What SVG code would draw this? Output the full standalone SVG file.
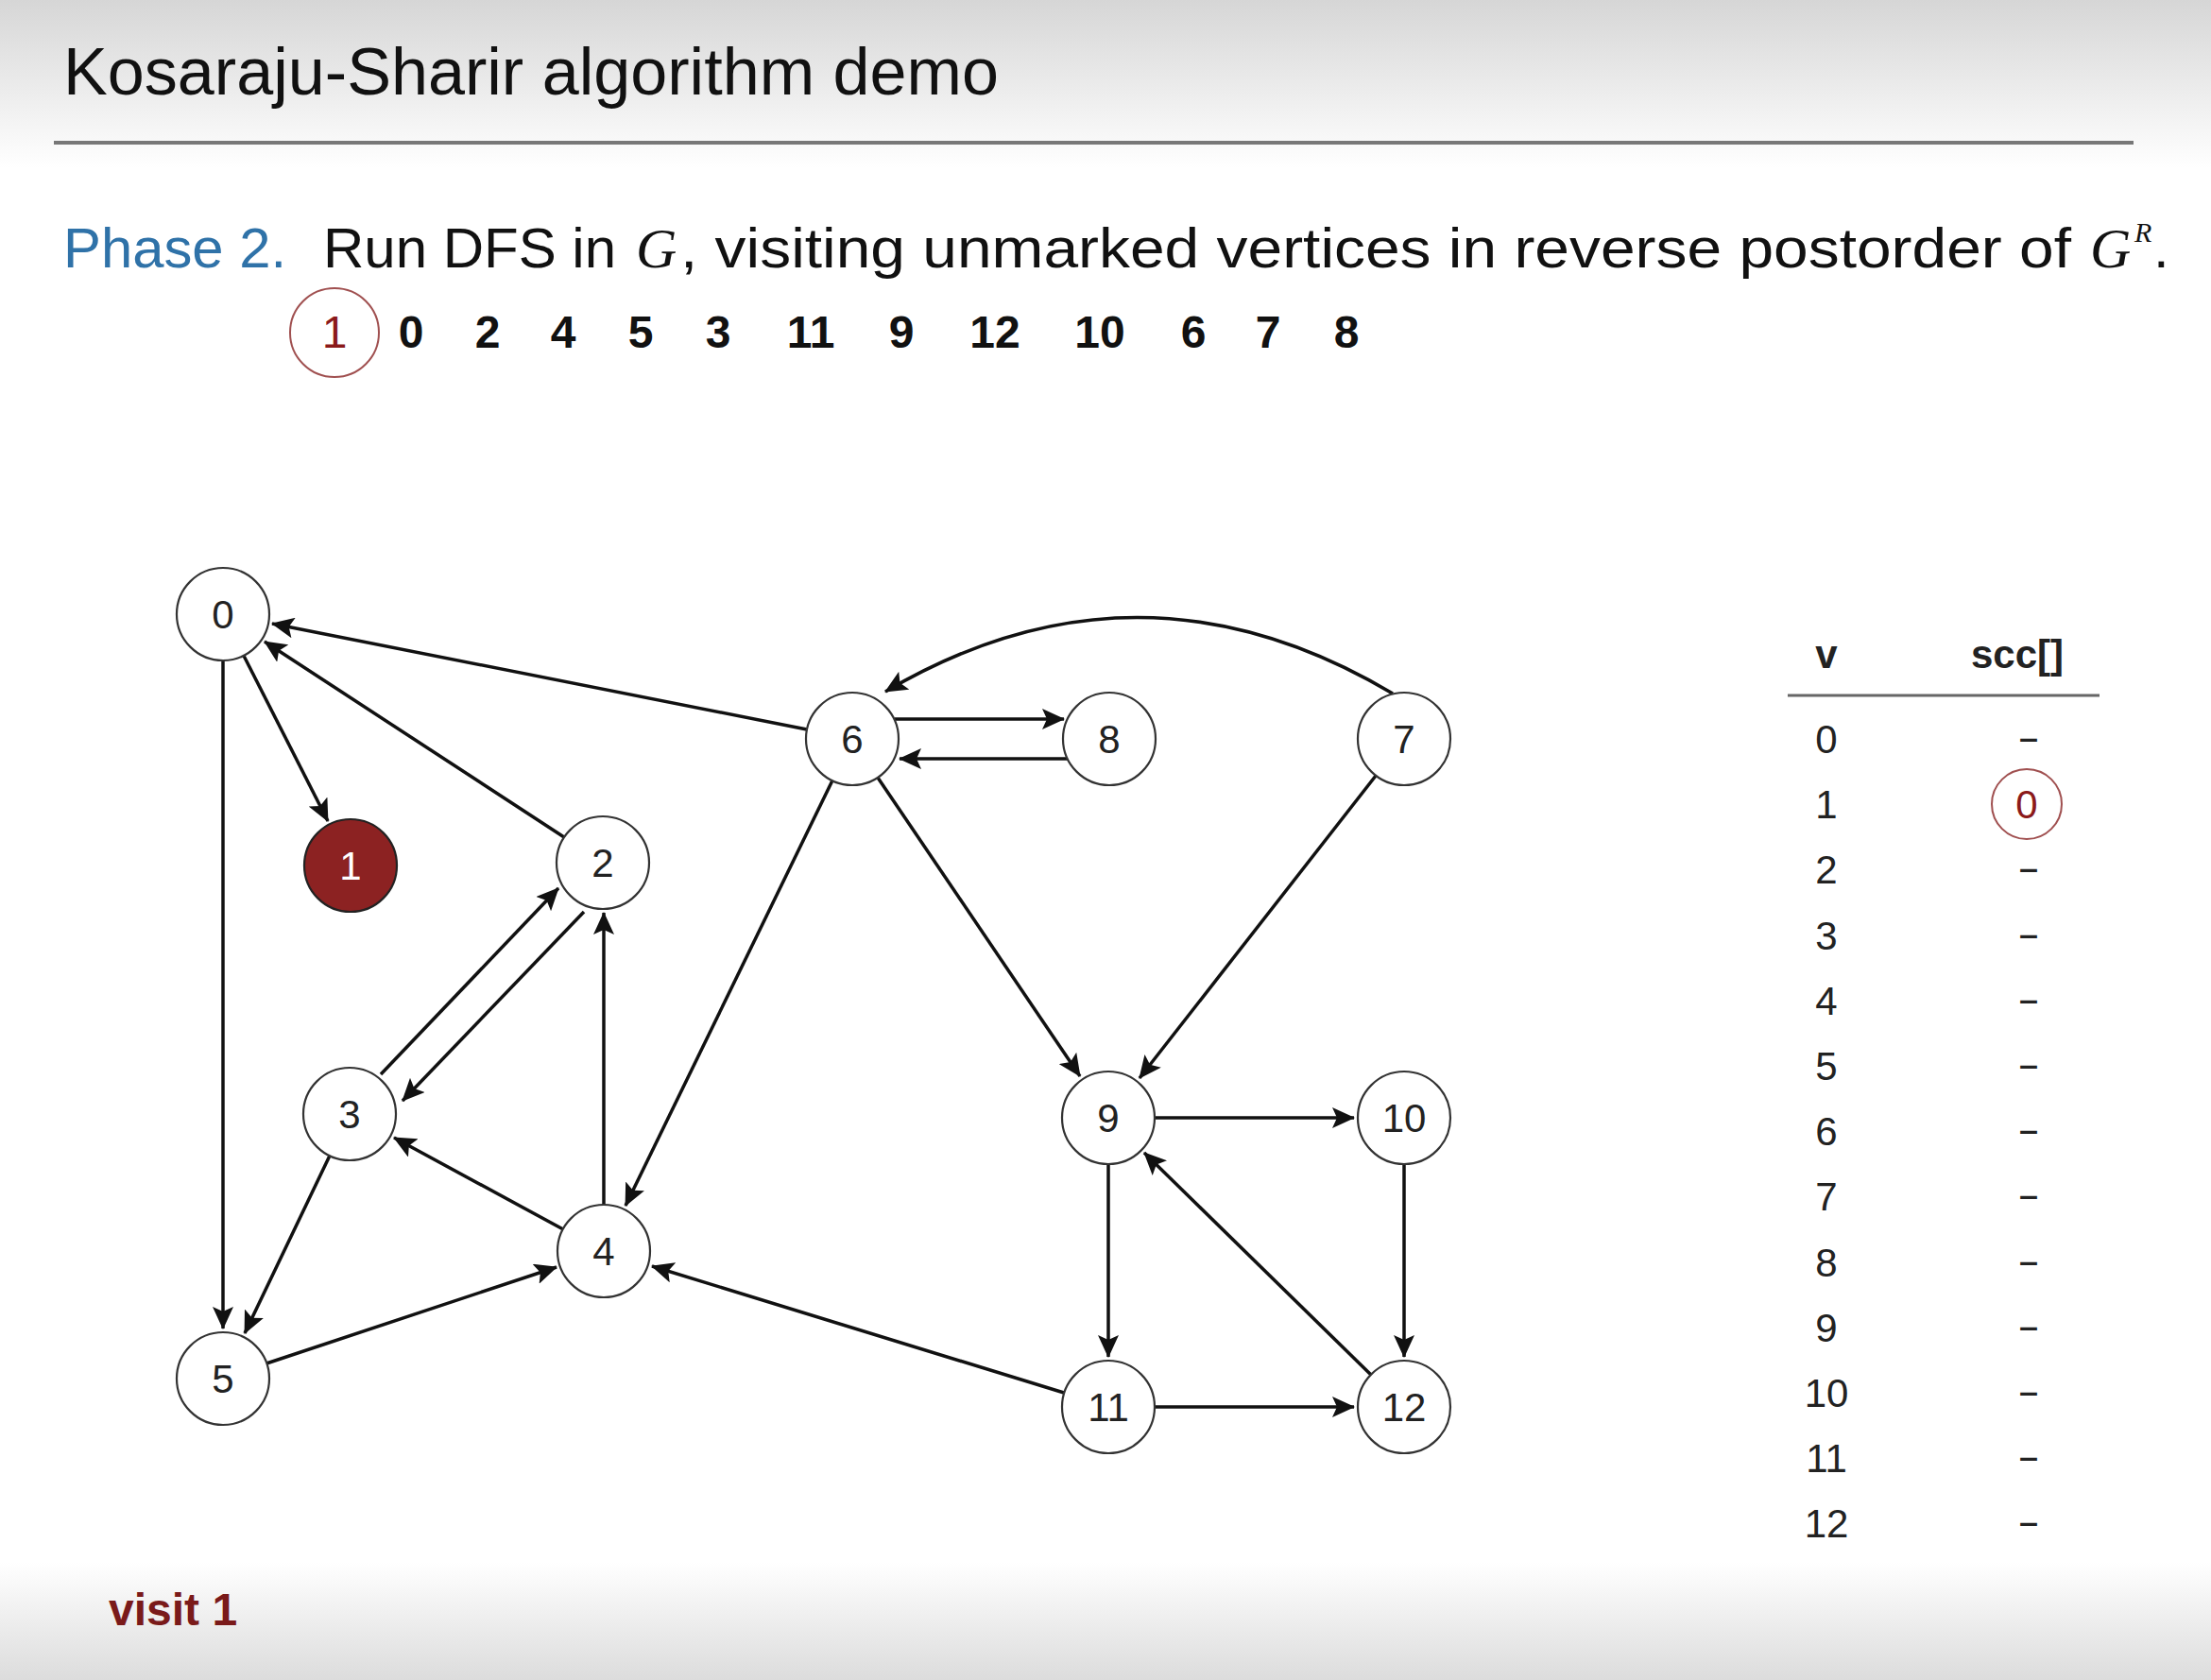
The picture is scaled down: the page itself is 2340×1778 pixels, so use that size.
<svg xmlns="http://www.w3.org/2000/svg" width="2340" height="1778" viewBox="0 0 2340 1778">
<defs>
<linearGradient id="bg" x1="0" y1="0" x2="0" y2="1">
<stop offset="0" stop-color="#d6d6d6"/>
<stop offset="0.1" stop-color="#ffffff"/>
<stop offset="0.93" stop-color="#ffffff"/>
<stop offset="1" stop-color="#dcdcdc"/>
</linearGradient>
<marker id="arr" markerUnits="userSpaceOnUse" viewBox="0 -11 24 22" markerWidth="24" markerHeight="22" refX="23" refY="0" orient="auto">
<path d="M0,-11 L24,0 L0,11 L5,0 Z" fill="#111"/>
</marker>
<style>
.edge{stroke:#111;stroke-width:3.5;fill:none;marker-end:url(#arr)}
.node circle{fill:#fff;stroke:#333;stroke-width:2.2}
.node text{font-family:"Liberation Sans",Arial,sans-serif;font-size:42px;fill:#222;text-anchor:middle}
.seq{font-family:"Liberation Sans",Arial,sans-serif;font-size:48px;font-weight:bold;fill:#111;text-anchor:middle}
.tbl{font-family:"Liberation Sans",Arial,sans-serif;font-size:42px;fill:#222;text-anchor:middle}
.dash{font-family:"DejaVu Sans",sans-serif;font-size:44px;fill:#222;text-anchor:middle}
.hdr{font-family:"Liberation Sans",Arial,sans-serif;font-size:42px;font-weight:bold;fill:#222;text-anchor:middle}
.ph{font-family:"Liberation Sans",Arial,sans-serif;font-size:60px;fill:#111}
.it{font-family:"Liberation Serif","Times New Roman",serif;font-style:italic;font-size:60px;fill:#111}
</style>
</defs>
<rect x="0" y="0" width="2340" height="1778" fill="url(#bg)"/>

<text x="67" y="100" font-family="Liberation Sans, Arial, sans-serif" font-size="70" fill="#111" textLength="990" lengthAdjust="spacingAndGlyphs">Kosaraju-Sharir algorithm demo</text>
<line x1="57" y1="151" x2="2258" y2="151" stroke="#777" stroke-width="4"/>

<text class="ph" x="67" y="283" style="fill:#2f72a8" textLength="236" lengthAdjust="spacingAndGlyphs">Phase 2.</text>
<text class="ph" x="342" y="283" textLength="310" lengthAdjust="spacingAndGlyphs">Run DFS in</text>
<text class="it" x="673" y="283">G</text>
<text class="ph" x="720" y="283" textLength="1472" lengthAdjust="spacingAndGlyphs">, visiting unmarked vertices in reverse postorder of</text>
<text class="it" x="2212" y="283">G</text>
<text class="it" x="2259" y="256" style="font-size:30px">R</text>
<text class="ph" x="2279" y="283">.</text>

<g id="sequence">
<ellipse cx="354" cy="352" rx="47" ry="47" fill="none" stroke="#a05050" stroke-width="2"/>
<text class="seq" x="354" y="368" style="fill:#8b1a1a;font-weight:normal">1</text>
<text class="seq" x="435" y="368">0</text>
<text class="seq" x="516" y="368">2</text>
<text class="seq" x="596" y="368">4</text>
<text class="seq" x="678" y="368">5</text>
<text class="seq" x="760" y="368">3</text>
<text class="seq" x="858" y="368">11</text>
<text class="seq" x="954" y="368">9</text>
<text class="seq" x="1053" y="368">12</text>
<text class="seq" x="1164" y="368">10</text>
<text class="seq" x="1263" y="368">6</text>
<text class="seq" x="1342" y="368">7</text>
<text class="seq" x="1425" y="368">8</text>
</g>

<g id="edges">
<line class="edge" x1="258" y1="694" x2="347" y2="869"/>
<line class="edge" x1="236" y1="699" x2="236" y2="1406"/>
<line class="edge" x1="597" y1="886" x2="280" y2="679"/>
<line class="edge" x1="854" y1="772" x2="288" y2="660"/>
<line class="edge" x1="403" y1="1137" x2="591" y2="940"/>
<line class="edge" x1="618" y1="965" x2="426" y2="1165"/>
<line class="edge" x1="639" y1="1275" x2="639" y2="966"/>
<line class="edge" x1="881" y1="826" x2="662" y2="1276"/>
<line class="edge" x1="596" y1="1301" x2="417" y2="1204"/>
<line class="edge" x1="349" y1="1223" x2="259" y2="1411"/>
<line class="edge" x1="282" y1="1443" x2="589" y2="1341"/>
<line class="edge" x1="1126" y1="1474" x2="690" y2="1340"/>
<line class="edge" x1="947" y1="761" x2="1126" y2="761"/>
<line class="edge" x1="1130" y1="803" x2="952" y2="803"/>
<path class="edge" d="M1474,734 Q1205,574 937,732"/>
<line class="edge" x1="929" y1="823" x2="1143" y2="1139"/>
<line class="edge" x1="1456" y1="821" x2="1206" y2="1141"/>
<line class="edge" x1="1222" y1="1183" x2="1433" y2="1183"/>
<line class="edge" x1="1173" y1="1232" x2="1173" y2="1436"/>
<line class="edge" x1="1486" y1="1232" x2="1486" y2="1436"/>
<line class="edge" x1="1222" y1="1489" x2="1433" y2="1489"/>
<line class="edge" x1="1451" y1="1455" x2="1211" y2="1220"/>
</g>

<g id="node0" class="node"><circle cx="236" cy="650" r="49"/><text x="236" y="665">0</text></g>
<g id="node1" class="node"><circle cx="371" cy="916" r="49" style="fill:#8c2222;stroke:#222"/><text x="371" y="931" style="fill:#fff">1</text></g>
<g id="node2" class="node"><circle cx="638" cy="913" r="49"/><text x="638" y="928">2</text></g>
<g id="node3" class="node"><circle cx="370" cy="1179" r="49"/><text x="370" y="1194">3</text></g>
<g id="node4" class="node"><circle cx="639" cy="1324" r="49"/><text x="639" y="1339">4</text></g>
<g id="node5" class="node"><circle cx="236" cy="1459" r="49"/><text x="236" y="1474">5</text></g>
<g id="node6" class="node"><circle cx="902" cy="782" r="49"/><text x="902" y="797">6</text></g>
<g id="node7" class="node"><circle cx="1486" cy="782" r="49"/><text x="1486" y="797">7</text></g>
<g id="node8" class="node"><circle cx="1174" cy="782" r="49"/><text x="1174" y="797">8</text></g>
<g id="node9" class="node"><circle cx="1173" cy="1183" r="49"/><text x="1173" y="1198">9</text></g>
<g id="node10" class="node"><circle cx="1486" cy="1183" r="49"/><text x="1486" y="1198">10</text></g>
<g id="node11" class="node"><circle cx="1173" cy="1489" r="49"/><text x="1173" y="1504">11</text></g>
<g id="node12" class="node"><circle cx="1486" cy="1489" r="49"/><text x="1486" y="1504">12</text></g>

<g id="table">
<text class="hdr" x="1933" y="707">v</text>
<text class="hdr" x="2135" y="707">scc[]</text>
<line x1="1892" y1="736" x2="2222" y2="736" stroke="#666" stroke-width="3"/>
<text class="tbl" x="1933" y="797">0</text><text class="dash" x="2147" y="796">–</text>
<text class="tbl" x="1933" y="866">1</text>
<circle cx="2145" cy="851" r="37" fill="none" stroke="#a05050" stroke-width="2"/>
<text class="tbl" x="2145" y="866" style="fill:#8b1a1a">0</text>
<text class="tbl" x="1933" y="935">2</text><text class="dash" x="2147" y="934">–</text>
<text class="tbl" x="1933" y="1005">3</text><text class="dash" x="2147" y="1004">–</text>
<text class="tbl" x="1933" y="1074">4</text><text class="dash" x="2147" y="1073">–</text>
<text class="tbl" x="1933" y="1143">5</text><text class="dash" x="2147" y="1142">–</text>
<text class="tbl" x="1933" y="1212">6</text><text class="dash" x="2147" y="1211">–</text>
<text class="tbl" x="1933" y="1281">7</text><text class="dash" x="2147" y="1280">–</text>
<text class="tbl" x="1933" y="1351">8</text><text class="dash" x="2147" y="1350">–</text>
<text class="tbl" x="1933" y="1420">9</text><text class="dash" x="2147" y="1419">–</text>
<text class="tbl" x="1933" y="1489">10</text><text class="dash" x="2147" y="1488">–</text>
<text class="tbl" x="1933" y="1558">11</text><text class="dash" x="2147" y="1557">–</text>
<text class="tbl" x="1933" y="1627">12</text><text class="dash" x="2147" y="1626">–</text>
</g>

<text x="115" y="1720" font-family="Liberation Sans, Arial, sans-serif" font-size="48" font-weight="bold" fill="#7a1a1a">visit 1</text>
</svg>
